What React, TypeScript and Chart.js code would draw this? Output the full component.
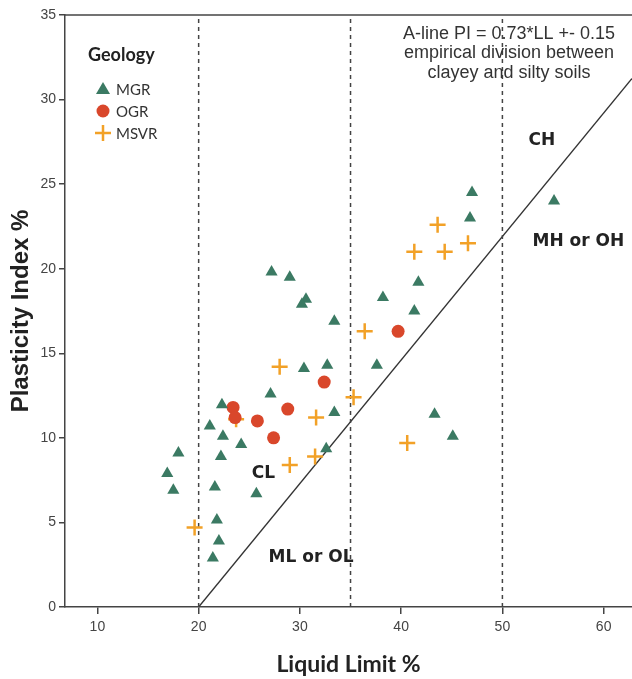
import React, { useEffect, useRef } from "react";
import { Chart, registerables } from "chart.js";

Chart.register(...registerables);

// ---- data (Liquid Limit %, Plasticity Index %) ----
const mgrLL = [16.9, 17.5, 18.0, 21.1, 21.6, 21.8, 22.0, 21.4, 22.3, 22.4, 22.2, 24.2, 25.7, 27.1, 27.2, 29.0, 30.6, 30.2, 33.4, 30.4, 32.7, 32.6, 33.4, 37.6, 38.2, 41.3, 41.7, 43.3, 45.1, 46.8, 47.0, 55.1];
const mgrPI = [7.9, 6.9, 9.1, 10.7, 7.1, 5.15, 3.9, 2.9, 11.95, 10.1, 8.9, 9.6, 6.7, 12.6, 19.8, 19.5, 18.2, 17.9, 16.9, 14.1, 14.3, 9.35, 11.5, 14.3, 18.3, 17.5, 19.2, 11.4, 10.1, 23.0, 24.5, 24.0];

const ogrLL = [23.4, 23.6, 25.8, 27.4, 28.8, 32.4, 39.7];
const ogrPI = [11.8, 11.2, 11.0, 10.0, 11.7, 13.3, 16.3];

const msvrLL = [19.6, 23.7, 28.0, 29.0, 31.5, 31.6, 35.3, 36.4, 40.6, 41.3, 43.6, 44.3, 46.6];
const msvrPI = [4.7, 11.1, 14.2, 8.4, 8.9, 11.2, 12.4, 16.3, 9.7, 21.0, 22.6, 21.0, 21.5];

const dividerLL = [20, 35, 50];
const aLineLL = [20, 62.8];
const aLineSlope = 0.73;

const xTickValues = [10, 20, 30, 40, 50, 60];
const yRange = [0, 35];

const seriesNames = ["MGR", "OGR", "MSVR"];
const regionLabels = [
  { text: "CH", x: 53.9, y: 27.6 },
  { text: "MH or OH", x: 57.5, y: 21.6 },
  { text: "CL", x: 26.4, y: 7.9 },
  { text: "ML or OL", x: 31.1, y: 2.95 },
];
const noteLines = ["A-line PI = 0.73*LL +- 0.15", "empirical division between", "clayey and silty soils"];

const GREEN = "#3b7a63";
const RED = "#d9472b";
const ORANGE = "#f2a127";

const toPts = (xs: number[], ys: number[]) => xs.map((x, i) => ({ x, y: ys[i] }));

export default function App() {
  const ref = useRef<HTMLCanvasElement | null>(null);

  useEffect(() => {
    if (!ref.current) return;

    const annotPlugin = {
      id: "annot",
      afterDatasetsDraw(chart: any) {
        const ctx = chart.ctx;
        const xs = chart.scales.x;
        const ys = chart.scales.y;
        const ca = chart.chartArea;
        ctx.save();
        // top border
        ctx.strokeStyle = "#444";
        ctx.lineWidth = 1.5;
        ctx.beginPath();
        ctx.moveTo(ca.left, ca.top);
        ctx.lineTo(ca.right, ca.top);
        ctx.stroke();

        // region labels
        ctx.fillStyle = "#222";
        ctx.font = "bold 17px 'DejaVu Sans', sans-serif";
        ctx.textAlign = "center";
        ctx.textBaseline = "middle";
        regionLabels.forEach((r) => {
          ctx.fillText(r.text, xs.getPixelForValue(r.x), ys.getPixelForValue(r.y));
        });

        // note
        ctx.fillStyle = "#333";
        ctx.font = "18px 'Liberation Sans', Arial, sans-serif";
        noteLines.forEach((t, i) => {
          ctx.fillText(t, 509, 34 + i * 19.5);
        });

        // legend
        ctx.textAlign = "left";
        ctx.fillStyle = "#222";
        ctx.font = "bold 18px Lato, sans-serif";
        ctx.fillText("Geology", 88, 55);
        ctx.font = "15px Lato, sans-serif";
        seriesNames.forEach((name, i) => {
          const y = 89 + i * 22;
          const mx = 103;
          if (i === 0) {
            ctx.fillStyle = GREEN;
            ctx.beginPath();
            ctx.moveTo(mx, y - 7);
            ctx.lineTo(mx + 7, y + 5);
            ctx.lineTo(mx - 7, y + 5);
            ctx.closePath();
            ctx.fill();
          } else if (i === 1) {
            ctx.fillStyle = RED;
            ctx.beginPath();
            ctx.arc(mx, y, 6.5, 0, Math.PI * 2);
            ctx.fill();
          } else {
            ctx.strokeStyle = ORANGE;
            ctx.lineWidth = 2.5;
            ctx.beginPath();
            ctx.moveTo(mx - 8, y);
            ctx.lineTo(mx + 8, y);
            ctx.moveTo(mx, y - 8);
            ctx.lineTo(mx, y + 8);
            ctx.stroke();
          }
          ctx.fillStyle = "#333";
          ctx.fillText(name, 116, y + 1);
        });
        ctx.restore();
      },
    };

    const lineDs = dividerLL.map((v) => ({
      label: "div" + v,
      data: [
        { x: v, y: yRange[0] },
        { x: v, y: yRange[1] },
      ],
      showLine: true,
      borderColor: "#444",
      borderWidth: 1.5,
      borderDash: [4, 4],
      pointRadius: 0,
      order: 10,
    }));

    const chart = new Chart(ref.current, {
      type: "scatter",
      data: {
        datasets: [
          ...lineDs,
          {
            label: "A-line",
            data: aLineLL.map((x) => ({ x, y: aLineSlope * (x - 20) })),
            showLine: true,
            borderColor: "#333",
            borderWidth: 1.3,
            pointRadius: 0,
            order: 10,
          },
          {
            label: "MGR",
            data: toPts(mgrLL, mgrPI),
            pointStyle: "triangle",
            pointRadius: 7,
            backgroundColor: GREEN,
            borderColor: GREEN,
            borderWidth: 0,
            order: 1,
          },
          {
            label: "OGR",
            data: toPts(ogrLL, ogrPI),
            pointStyle: "circle",
            pointRadius: 6.5,
            backgroundColor: RED,
            borderColor: RED,
            borderWidth: 0,
            order: 1,
          },
          {
            label: "MSVR",
            data: toPts(msvrLL, msvrPI),
            pointStyle: "cross",
            pointRadius: 8,
            backgroundColor: ORANGE,
            borderColor: ORANGE,
            borderWidth: 2.5,
            order: 1,
          },
        ],
      } as any,
      options: {
        animation: false,
        responsive: false,
        maintainAspectRatio: false,
        clip: false as any,
        layout: { autoPadding: false, padding: { top: 15, right: 0, left: 0, bottom: 0 } },
        plugins: {
          legend: { display: false },
          tooltip: { enabled: false },
        },
        scales: {
          x: {
            type: "linear",
            min: 6.8,
            max: 62.8,
            afterBuildTicks: (scale: any) => {
              scale.ticks = xTickValues.map((v) => ({ value: v }));
            },
            afterFit: (scale: any) => {
              scale.height = 72;
              scale.paddingRight = 0;
              scale.paddingLeft = 0;
            },
            grid: { drawOnChartArea: false, drawTicks: true, tickLength: 7, color: "#444", lineWidth: 1.5 },
            border: { display: true, color: "#444", width: 1.5 },
            ticks: { color: "#444", font: { size: 14, family: "'Liberation Sans', Arial, sans-serif" }, padding: 5 },
            title: {
              display: true,
              text: "Liquid Limit %",
              color: "#222",
              font: { size: 23, weight: "bold", family: "Lato, sans-serif" },
              padding: { top: 0, bottom: 1 },
            },
          },
          y: {
            type: "linear",
            min: yRange[0],
            max: yRange[1],
            ticks: { stepSize: 5, color: "#444", font: { size: 14, family: "'Liberation Sans', Arial, sans-serif" }, padding: 3 },
            afterFit: (scale: any) => {
              scale.width = 65;
              scale.paddingTop = 0;
              scale.paddingBottom = 0;
            },
            grid: { drawOnChartArea: false, drawTicks: true, tickLength: 6, color: "#444", lineWidth: 1.5 },
            border: { display: true, color: "#444", width: 1.5 },
            title: {
              display: true,
              text: "Plasticity Index %",
              color: "#222",
              font: { size: 24, weight: "bold", family: "'Liberation Sans', Arial, sans-serif" },
              padding: { top: 7, bottom: 0 },
            },
          },
        },
      } as any,
      plugins: [annotPlugin],
    });
    return () => chart.destroy();
  }, []);

  return (
    <div style={{ position: "fixed", left: 0, top: 0, width: 632, height: 679, background: "#fff" }}>
      <canvas ref={ref} width={632} height={679} style={{ width: 632, height: 679 }} />
    </div>
  );
}
